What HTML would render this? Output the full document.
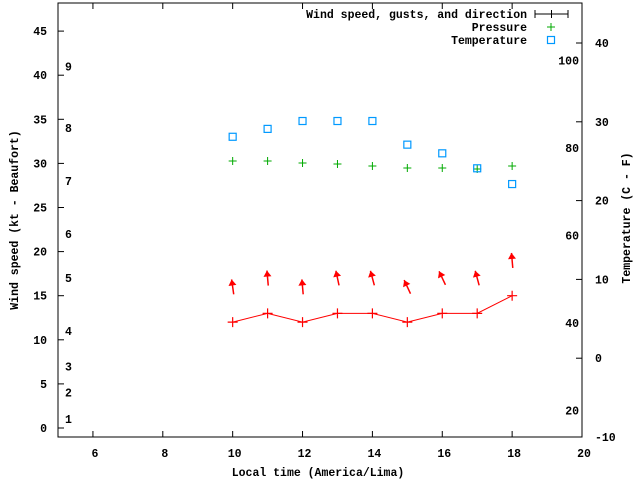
<!DOCTYPE html>
<html><head><meta charset="utf-8"><style>
body{margin:0;background:#fff}
svg{display:block;font-family:"Liberation Mono",monospace;font-size:11.5px;font-weight:bold}
</style></head><body>
<svg id="c" width="640" height="480" xmlns="http://www.w3.org/2000/svg"></svg>
<script>
const hours=[10,11,12,13,14,15,16,17,18];
const windSpeed=[12,13,12,13,13,12,13,13,15];
const gustSpeed=[16,17,16,17,17,16,17,17,19];
const windDir=[-8,-5,-5,-12,-15,-25,-25,-15,-5];
const pressure=[1014.2,1014.2,1014.0,1013.9,1013.7,1013.5,1013.5,1013.4,1013.7];
const tempC=[28.1,29.1,30.1,30.1,30.1,27.1,26.0,24.1,22.1];
const xTicks=[6,8,10,12,14,16,18,20];
const yTicks=[0,5,10,15,20,25,30,35,40,45];
const cTicks=[-10,0,10,20,30,40];
const fTicks=[20,40,60,80,100];
const bft=[1,2,3,4,5,6,7,8,9];
const bftKt=[1,4,7,11,17,22,28,34,41];

const L=58,R=582,T=3,B=437;
const X=v=>L+(v-5)*(R-L)/15;
const Y=v=>428-v*8.82;
const YC=c=>437-(c+10)*7.88;
const YP=p=>161+(1014.2-p)*10;
const s=document.getElementById('c');
const NS='http://www.w3.org/2000/svg';
function el(t,a,txt){const e=document.createElementNS(NS,t);for(const k in a)e.setAttribute(k,a[k]);if(txt!==undefined)e.textContent=txt;s.appendChild(e);return e;}

let e=el('rect',{x:L,y:T,width:R-L,height:B-T,fill:'none',stroke:'#000','stroke-width':1});


xTicks.forEach(v=>{
 el('line',{x1:X(v),x2:X(v),y1:B,y2:B-6,stroke:'#000'});
 el('line',{x1:X(v),x2:X(v),y1:T,y2:T+6,stroke:'#000'});
 const t=el('text',{x:X(v)+2,y:B+20,'text-anchor':'middle'},v);
 
 
});
yTicks.forEach(v=>{
 el('line',{x1:L,x2:L+6,y1:Y(v),y2:Y(v),stroke:'#000'});
 const t=el('text',{x:L-11,y:Y(v)+4,'text-anchor':'end'},v);
 
 
});
cTicks.forEach(v=>{
 el('line',{x1:R,x2:R-6,y1:YC(v),y2:YC(v),stroke:'#000'});
 const t=el('text',{x:R+13,y:YC(v)+4},v);
 
 
});
fTicks.forEach(v=>{
 const t=el('text',{x:R-3,y:YC((v-32)/1.8)+4,'text-anchor':'end'},v);
 
 
});
bft.forEach((b,i)=>{
 const t=el('text',{x:65,y:Y(bftKt[i])+4},b);
 
 
});
let t=el('text',{x:318,y:476,'text-anchor':'middle'},'Local time (America/Lima)');

t=el('text',{x:0,y:0,'text-anchor':'middle',transform:'translate(18,220) rotate(-90)'},'Wind speed (kt - Beaufort)');

t=el('text',{x:0,y:0,'text-anchor':'middle',transform:'translate(630,218) rotate(-90)'},'Temperature (C - F)');


let pts=hours.map((h,i)=>X(h)+','+Y(windSpeed[i])).join(' ');
e=el('polyline',{points:pts,fill:'none',stroke:'#f00','stroke-width':1});

hours.forEach((h,i)=>{
 const x=X(h),y=Y(windSpeed[i]);
 e=el('path',{d:`M${x-5} ${y}h10M${x} ${y-5}v10`,stroke:'#f00','stroke-width':1.2});
 
 const a=windDir[i]*Math.PI/180,len=15,cy=Y(gustSpeed[i]);
 const dx=Math.sin(a),dy=-Math.cos(a);
 const x0=x-dx*len/2,y0=cy-dy*len/2,x1=x+dx*len/2,y1=cy+dy*len/2;
 const px=-dy,py=dx;
 const g=el('g',{});
 
 const l=document.createElementNS(NS,'line');
 l.setAttribute('x1',x0);l.setAttribute('y1',y0);l.setAttribute('x2',x1);l.setAttribute('y2',y1);
 l.setAttribute('stroke','#f00');l.setAttribute('stroke-width',1.5);g.appendChild(l);
 const h2=document.createElementNS(NS,'polygon');
 const bx=x1-dx*6,by=y1-dy*6;
 h2.setAttribute('points',`${x1},${y1} ${bx+px*4},${by+py*4} ${bx-px*4},${by-py*4}`);
 h2.setAttribute('fill','#f00');g.appendChild(h2);
});
hours.forEach((h,i)=>{
 const x=X(h),y=YP(pressure[i]);
 e=el('path',{d:`M${x-4} ${y}h8M${x} ${y-4}v8`,stroke:'#0a0','stroke-width':1});
 
});
hours.forEach((h,i)=>{
 const x=X(h),y=YC(tempC[i]);
 e=el('rect',{x:x-3.5,y:y-3.5,width:7,height:7,fill:'none',stroke:'#09f','stroke-width':1.2});
 
});
const leg=[['Wind speed, gusts, and direction',14],['Pressure',27],['Temperature',40]];
leg.forEach(([n,y])=>{
 const t=el('text',{x:527,y:y+4,'text-anchor':'end'},n);
 
});
el('path',{d:'M535 14h33M535 10v8M568 10v8M551.5 10v8',stroke:'#000','stroke-width':1});
el('path',{d:'M547 27h8M551 23v8',stroke:'#0a0','stroke-width':1});
el('rect',{x:547.5,y:36.5,width:7,height:7,fill:'none',stroke:'#09f','stroke-width':1.2});
</script>
</body></html>
